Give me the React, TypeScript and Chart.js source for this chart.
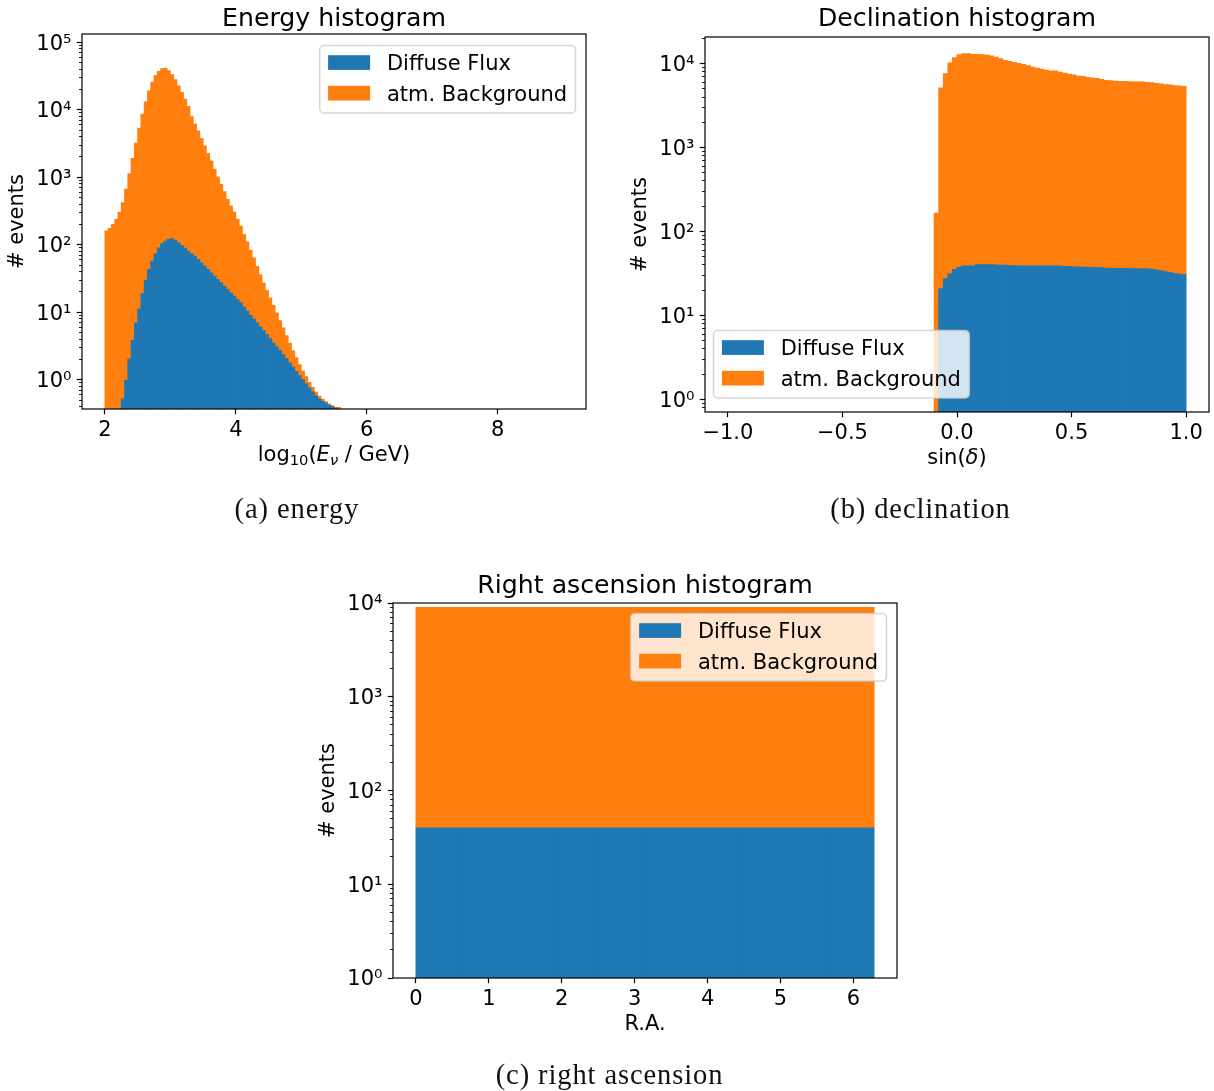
import React, { useEffect, useRef } from 'react';
import { Chart, registerables } from 'chart.js';

Chart.register(...registerables);

const BLUE = '#1f77b4';
const ORANGE = '#ff7f0e';
const SANS = "'DejaVu Sans', 'Noto Sans', sans-serif";
const SERIF = "'Liberation Serif', 'DejaVu Serif', serif";

// ---------- shared labels ----------
const seriesLabels = ['Diffuse Flux', 'atm. Background'];
const seriesColors = [BLUE, ORANGE];
const logTickLabels = ['10⁰', '10¹', '10²', '10³', '10⁴', '10⁵'];
const captions = ['(a) energy', '(b) declination', '(c) right ascension'];

// ---------- (a) energy histogram: bins of log10(E/GeV) ----------
const energyBinLow = 2.0;
const energyBinWidth = 0.05;
const energyDiffuse = [
  0, 0, 0, 0, 0, 0.52, 0.98, 2.03, 3.84, 6.9,
  11.2, 18.9, 29.9, 43, 57, 73.5, 90, 103.5, 113, 120,
  123, 116, 107, 98, 89, 80.5, 74, 68, 60.5, 54,
  48, 43, 38.4, 34.3, 30.5, 27.3, 24.3, 21.7, 19.4, 17.3,
  15.4, 13.8, 12.0, 10.4, 9.0, 7.95, 6.95, 6.05, 5.35, 4.66,
  4.06, 3.5, 3.06, 2.7, 2.35, 2.05, 1.77, 1.54, 1.33, 1.15,
  1.0, 0.87, 0.75, 0.66, 0.58, 0.52, 0.48, 0.45, 0.42, 0.4,
  0.38, 0,
];
const energyBackground = [
  160, 175, 200, 238, 305, 420, 664, 1130, 1910, 3190,
  5330, 8600, 13120, 19100, 25400, 31900, 37000, 40500, 41000, 37800,
  33000, 27800, 22600, 18000, 14300, 11120, 7880, 6050, 4820, 3700,
  2870, 2210, 1710, 1280, 980, 760, 588, 449, 356, 288,
  223, 175, 130, 100, 74, 56, 41, 30, 21.6, 16.3,
  12.2, 9.1, 6.7, 4.8, 3.5, 2.45, 1.7, 1.15, 0.78, 0.52,
  0.35, 0.24, 0.16, 0.11, 0.075, 0.05, 0.035, 0.024, 0.016, 0.011,
  0.008, 0.39,
];
const energyXTicks = [2, 4, 6, 8];
const energyXTickLabels = ['2', '4', '6', '8'];

// ---------- (b) declination histogram: bins of sin(dec) ----------
const declBinLow = -0.1;
const declBinWidth = 0.02;
const declDiffuse = [
  0, 20.8, 27.4, 31.4, 35.4, 37.7, 38.8, 39.0, 39.0, 40.3,
  40.3, 40.3, 40.3, 40.0, 39.6, 39.6, 39.1, 39.1, 39.0, 39.0,
  39.0, 39.0, 39.0, 39.0, 39.0, 39.0, 39.0, 38.8, 38.5, 38.4,
  38.1, 37.8, 37.7, 37.7, 37.4, 37.4, 37.0, 36.7, 36.4, 36.4,
  36.4, 36.4, 36.4, 36.1, 36.1, 36.1, 35.8, 35.5, 34.9, 34.2,
  33.2, 32.6, 31.7, 31.1, 30.5,
];
const declBackground = [
  165, 5110, 7570, 10160, 11760, 12760, 13110, 13110, 12860, 12860,
  12760, 12640, 12300, 11960, 11430, 10920, 10620, 10330, 10050, 9770,
  9420, 9080, 8830, 8590, 8360, 8140, 8140, 7910, 7700, 7490,
  7290, 7090, 7020, 6830, 6710, 6650, 6460, 6290, 6230, 6170,
  6120, 6120, 6070, 6010, 6010, 6010, 5960, 5900, 5800, 5700,
  5590, 5540, 5440, 5390, 5340,
];
const declXTicks = [-1, -0.5, 0, 0.5, 1];
const declXTickLabels = ['−1.0', '−0.5', '0.0', '0.5', '1.0'];

// ---------- (c) right ascension histogram ----------
const raBinLow = 0;
const raBinWidth = (2 * Math.PI) / 10;
const raDiffuse = [40, 40, 40, 40, 40, 40, 40, 40, 40, 40];
const raBackground = [8910, 8910, 8910, 8910, 8910, 8910, 8910, 8910, 8910, 8910];
const raXTicks = [0, 1, 2, 3, 4, 5, 6];
const raXTickLabels = ['0', '1', '2', '3', '4', '5', '6'];

// ---------- matplotlib-like styling (px) ----------
const FS = 21;
const TITLE_FS = 25.2;
const MAJOR_LEN = 5.25;
const MINOR_LEN = 3;
const MAJOR_W = 1.2;
const MINOR_W = 0.9;
const SPINE_W = 1.2;
const Y_AXIS_W = 80;
const X_AXIS_H = 62;
const TITLE_SPACE = 30;

type Seg = { t: string; size: number; italic?: boolean; dy?: number };

function logTicks(min: number, max: number) {
  const out: { value: number; major: boolean }[] = [];
  const e0 = Math.floor(Math.log10(min));
  const e1 = Math.ceil(Math.log10(max));
  for (let e = e0; e <= e1; e++) {
    for (let m = 1; m <= 9; m++) {
      const v = m * Math.pow(10, e);
      if (v >= min * 0.9999 && v <= max * 1.0001) out.push({ value: v, major: m === 1 });
    }
  }
  return out;
}

function roundRectPath(ctx: CanvasRenderingContext2D, x: number, y: number, w: number, h: number, r: number) {
  ctx.beginPath();
  ctx.moveTo(x + r, y);
  ctx.lineTo(x + w - r, y);
  ctx.arcTo(x + w, y, x + w, y + r, r);
  ctx.lineTo(x + w, y + h - r);
  ctx.arcTo(x + w, y + h, x + w - r, y + h, r);
  ctx.lineTo(x + r, y + h);
  ctx.arcTo(x, y + h, x, y + h - r, r);
  ctx.lineTo(x, y + r);
  ctx.arcTo(x, y, x + r, y, r);
  ctx.closePath();
}

function makeDecorPlugin(spec: any) {
  return {
    id: 'mplDecor',
    afterDraw(chart: any) {
      const ctx: CanvasRenderingContext2D = chart.ctx;
      const a = chart.chartArea;
      ctx.save();
      // four spines
      ctx.strokeStyle = '#000';
      ctx.lineWidth = SPINE_W;
      ctx.setLineDash([]);
      ctx.strokeRect(a.left, a.top, a.right - a.left, a.bottom - a.top);

      // rich x label (mathtext-like)
      if (Array.isArray(spec.xLabel)) {
        const segs: Seg[] = spec.xLabel;
        const fontOf = (s: Seg) => `${s.italic ? 'italic ' : ''}${s.size}px ${SANS}`;
        const widths = segs.map((s) => {
          ctx.font = fontOf(s);
          return ctx.measureText(s.t).width;
        });
        const total = widths.reduce((p, c) => p + c, 0);
        let x = (a.left + a.right) / 2 - total / 2;
        const base = a.bottom + 52;
        ctx.fillStyle = '#000';
        ctx.textAlign = 'left';
        ctx.textBaseline = 'alphabetic';
        segs.forEach((s, i) => {
          ctx.font = fontOf(s);
          ctx.fillText(s.t, x, base + (s.dy || 0));
          x += widths[i];
        });
      }

      // legend
      const pad = 0.4 * FS;
      const spacing = 0.5 * FS;
      const hl = 2 * FS;
      const hh = 0.7 * FS;
      const htp = 0.8 * FS;
      const bap = 0.5 * FS;
      const ascent = 16;
      const rowH = 20.1;
      ctx.font = `${FS}px ${SANS}`;
      const tw = Math.max(...seriesLabels.map((s) => ctx.measureText(s).width));
      const w = pad + hl + htp + tw + pad;
      const h = 2 * pad + seriesLabels.length * rowH + (seriesLabels.length - 1) * spacing;
      const x0 = (spec.legendLoc === 'upper right' ? a.right - bap - w : a.left + bap) + spec.legendShift.dx;
      const y0 = (spec.legendLoc === 'upper right' ? a.top + bap : a.bottom - bap - h) + spec.legendShift.dy;
      roundRectPath(ctx, x0, y0, w, h, 0.2 * FS);
      ctx.fillStyle = 'rgba(255,255,255,0.8)';
      ctx.fill();
      ctx.lineWidth = 1.5;
      ctx.strokeStyle = 'rgba(204,204,204,0.8)';
      ctx.stroke();
      seriesLabels.forEach((label, i) => {
        const base = y0 + pad + i * (rowH + spacing) + ascent;
        ctx.fillStyle = seriesColors[i];
        ctx.fillRect(x0 + pad, base - hh, hl, hh);
        ctx.fillStyle = '#000';
        ctx.textAlign = 'left';
        ctx.textBaseline = 'alphabetic';
        ctx.font = `${FS}px ${SANS}`;
        ctx.fillText(label, x0 + pad + hl + htp, base);
      });
      ctx.restore();
    },
  };
}

function buildConfig(spec: any): any {
  const centers = spec.diffuse.map((_: number, i: number) => spec.binLow + spec.binWidth * (i + 0.5));
  const toData = (arr: number[]) => arr.map((v, i) => ({ x: centers[i], y: v > 0 ? v : null }));
  const tickFont = { family: SANS, size: FS, lineHeight: 1 };
  const canvasTop = spec.area.t - TITLE_SPACE;
  const titlePadTop = spec.titleMid - canvasTop - TITLE_FS / 2;
  const titlePadBottom = TITLE_SPACE - TITLE_FS - titlePadTop;
  return {
    type: 'bar',
    data: {
      datasets: [
        { label: seriesLabels[0], data: toData(spec.diffuse), backgroundColor: BLUE },
        { label: seriesLabels[1], data: toData(spec.background), backgroundColor: ORANGE },
      ],
    },
    options: {
      animation: false,
      responsive: false,
      maintainAspectRatio: false,
      devicePixelRatio: 1,
      events: [],
      layout: { padding: { left: 0, top: 0, right: spec.padRight, bottom: 0 } },
      datasets: {
        bar: { barPercentage: 1, categoryPercentage: 1, borderWidth: 0, inflateAmount: 0.4, grouped: false },
      },
      plugins: {
        legend: { display: false },
        tooltip: { enabled: false },
        title: {
          display: true,
          text: spec.title,
          fullSize: false,
          align: 'center',
          color: '#000',
          font: { family: SANS, size: TITLE_FS, weight: 'normal', lineHeight: 1 },
          padding: { top: titlePadTop, bottom: titlePadBottom },
        },
      },
      scales: {
        x: {
          type: 'linear',
          min: spec.xMin,
          max: spec.xMax,
          bounds: 'data',
          offset: false,
          stacked: true,
          afterFit: (s: any) => {
            s.height = X_AXIS_H;
          },
          afterBuildTicks: (s: any) => {
            s.ticks = spec.xTicks.map((v: number) => ({ value: v }));
          },
          grid: {
            display: true,
            drawOnChartArea: false,
            drawTicks: true,
            tickLength: MAJOR_LEN,
            tickWidth: MAJOR_W,
            tickColor: '#000',
            offset: false,
          },
          border: { display: false },
          ticks: {
            autoSkip: false,
            maxRotation: 0,
            minRotation: 0,
            padding: 6,
            color: '#000',
            font: tickFont,
            callback: (_v: number, i: number) => spec.xTickLabels[i],
          },
          title:
            typeof spec.xLabel === 'string'
              ? {
                  display: true,
                  text: spec.xLabel,
                  color: '#000',
                  font: tickFont,
                  padding: { top: 0, bottom: 4.8 },
                }
              : { display: false },
        },
        y: {
          type: 'logarithmic',
          min: spec.yMin,
          max: spec.yMax,
          bounds: 'data',
          stacked: true,
          beginAtZero: false,
          afterFit: (s: any) => {
            s.width = Y_AXIS_W;
          },
          afterBuildTicks: (s: any) => {
            s.ticks = logTicks(spec.yMin, spec.yMax);
          },
          grid: {
            display: true,
            drawOnChartArea: false,
            drawTicks: true,
            tickLength: MAJOR_LEN,
            tickColor: '#000',
            tickWidth: (c: any) => (c.tick && c.tick.major ? MAJOR_W : MINOR_W),
            tickBorderDash: (c: any) => (c.tick && c.tick.major ? [] : [0, MAJOR_LEN - MINOR_LEN, 20]),
          },
          border: { display: false },
          ticks: {
            autoSkip: false,
            padding: MAJOR_LEN,
            labelOffset: 2,
            color: '#000',
            font: tickFont,
            callback: (v: number, i: number, ticks: any[]) =>
              ticks[i] && ticks[i].major ? logTickLabels[Math.round(Math.log10(v))] : '',
          },
          title: {
            display: true,
            text: '# events',
            color: '#000',
            font: tickFont,
            padding: { top: 5.5, bottom: 0 },
          },
        },
      },
    },
    plugins: [makeDecorPlugin(spec)],
  };
}

const panels = [
  {
    key: 'energy',
    title: 'Energy histogram',
    titleMid: 19.3,
    binLow: energyBinLow,
    binWidth: energyBinWidth,
    diffuse: energyDiffuse,
    background: energyBackground,
    xMin: 1.65,
    xMax: 9.35,
    xTicks: energyXTicks,
    xTickLabels: energyXTickLabels,
    yMin: 0.368,
    yMax: 1.33e5,
    xLabel: [
      { t: 'log', size: FS },
      { t: '10', size: 14.7, dy: 4.4 },
      { t: '(', size: FS },
      { t: 'E', size: FS, italic: true },
      { t: 'ν', size: 14.7, italic: true, dy: 4.4 },
      { t: ' / GeV)', size: FS },
    ],
    legendLoc: 'upper right',
    legendShift: { dx: 0, dy: 1 },
    area: { l: 82, t: 34, w: 504, h: 375 },
    padRight: 20,
  },
  {
    key: 'decl',
    title: 'Declination histogram',
    titleMid: 19.3,
    binLow: declBinLow,
    binWidth: declBinWidth,
    diffuse: declDiffuse,
    background: declBackground,
    xMin: -1.1,
    xMax: 1.1,
    xTicks: declXTicks,
    xTickLabels: declXTickLabels,
    yMin: 0.706,
    yMax: 2.08e4,
    xLabel: [
      { t: 'sin(', size: FS },
      { t: 'δ', size: FS, italic: true },
      { t: ')', size: FS },
    ],
    legendLoc: 'lower left',
    legendShift: { dx: -2, dy: -3.5 },
    area: { l: 705, t: 37, w: 504, h: 375 },
    padRight: 5,
  },
  {
    key: 'ra',
    title: 'Right ascension histogram',
    titleMid: 586.3,
    binLow: raBinLow,
    binWidth: raBinWidth,
    diffuse: raDiffuse,
    background: raBackground,
    xMin: -0.05 * 2 * Math.PI,
    xMax: 1.05 * 2 * Math.PI,
    xTicks: raXTicks,
    xTickLabels: raXTickLabels,
    yMin: 1,
    yMax: 1e4,
    xLabel: 'R.A.',
    legendLoc: 'upper right',
    legendShift: { dx: 0, dy: 0 },
    area: { l: 393, t: 603, w: 504, h: 375 },
    padRight: 20,
  },
];

function Panel({ spec }: { spec: any }) {
  const ref = useRef<HTMLCanvasElement>(null);
  useEffect(() => {
    if (!ref.current) return;
    const chart = new Chart(ref.current, buildConfig(spec));
    return () => chart.destroy();
  }, [spec]);
  const left = spec.area.l - Y_AXIS_W;
  const top = spec.area.t - TITLE_SPACE;
  const width = Y_AXIS_W + spec.area.w + spec.padRight;
  const height = TITLE_SPACE + spec.area.h + X_AXIS_H;
  return (
    <canvas
      ref={ref}
      width={width}
      height={height}
      style={{ position: 'absolute', left, top, width, height, display: 'block' }}
    />
  );
}

const captionPos = [
  { x: 297, y: 518 },
  { x: 920.5, y: 518 },
  { x: 609.5, y: 1084 },
];

export default function App() {
  return (
    <div
      style={{
        position: 'absolute',
        left: 0,
        top: 0,
        width: 1214,
        height: 1091,
        overflow: 'hidden',
        background: '#fff',
      }}
    >
      {panels.map((p) => (
        <Panel key={p.key} spec={p} />
      ))}
      <svg
        width={1214}
        height={1091}
        style={{ position: 'absolute', left: 0, top: 0, pointerEvents: 'none' }}
      >
        {captions.map((c, i) => (
          <text
            key={c}
            x={captionPos[i].x}
            y={captionPos[i].y}
            textAnchor="middle"
            fontFamily={SERIF}
            fontSize={28.5}
            letterSpacing={0.9}
            fill="#111"
          >
            {c}
          </text>
        ))}
      </svg>
    </div>
  );
}
